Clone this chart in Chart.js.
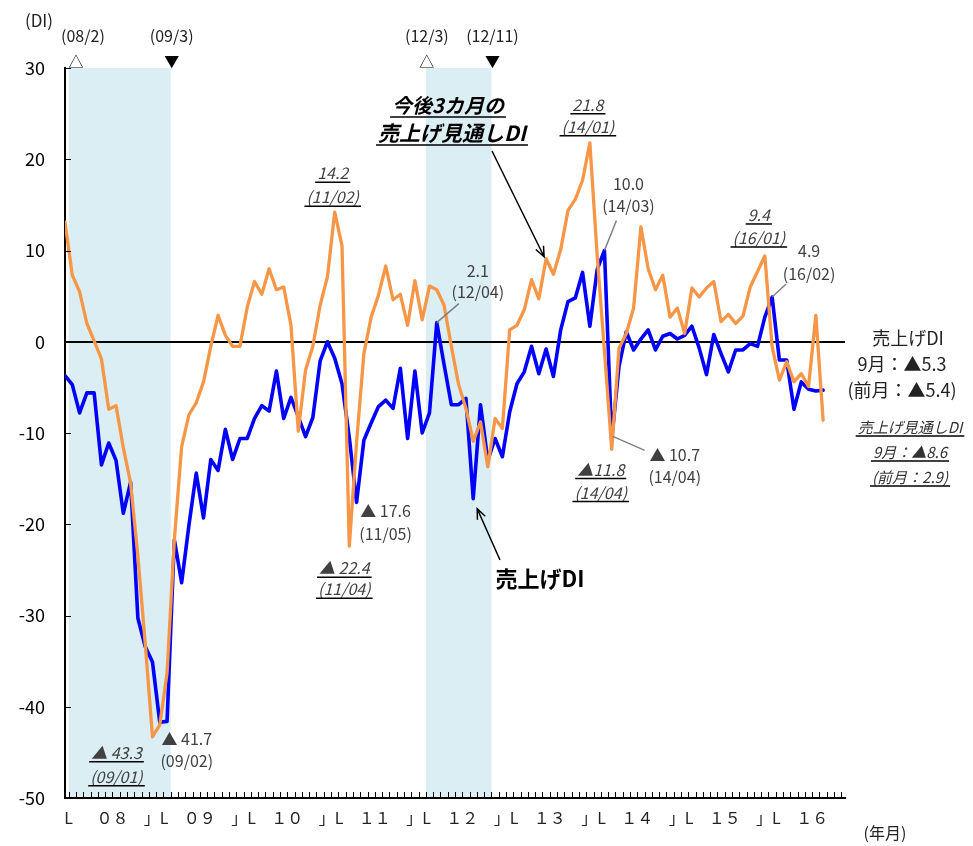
<!DOCTYPE html>
<html>
<head>
<meta charset="utf-8">
<script src="https://cdn.jsdelivr.net/npm/chart.js@4.4.1/dist/chart.umd.min.js"></script>
<style>
  html, body { margin: 0; padding: 0; background: #fff; }
</style>
</head>
<body>
<canvas id="chart" width="973" height="846"></canvas>
<script>
// monthly categories 2008/01 .. 2016/09
const years = ['08', '09', '10', '11', '12', '13', '14', '15', '16'];
const months = [];
years.forEach(y => {
    for (let m = 1; m <= 12; m++) {
        if (y === '16' && m > 9) break;
        months.push(y + '/' + String(m).padStart(2, '0'));
    }
});

// 売上げDI
const salesDI = [
    -3.7, -4.7, -7.8, -5.6, -5.6, -13.5, -11.1, -13.0, -18.8, -15.4, -30.3, -33.4,
    -35.1, -41.7, -41.6, -21.7, -26.4, -20.1, -14.4, -19.3, -12.9, -14.1, -9.6, -12.9,
    -10.6, -10.6, -8.4, -7.0, -7.6, -3.2, -8.4, -6.1, -8.2, -10.4, -8.3, -2.1,
    0.0, -1.8, -4.6, -10.5, -17.6, -10.8, -8.9, -7.1, -6.4, -7.3, -2.9, -10.6,
    -3.2, -10.0, -7.8, 2.1, -2.5, -6.9, -6.9, -6.2, -17.2, -6.9, -13.0, -10.6,
    -12.6, -7.7, -4.6, -3.3, -0.5, -3.5, -0.8, -3.8, 1.3, 4.4, 4.8, 7.6,
    1.7, 7.9, 10.0, -10.7, -2.7, 1.1, -0.9, 0.3, 1.3, -0.9, 0.6, 0.9,
    0.3, 0.7, 1.7, -0.7, -3.6, 0.8, -1.3, -3.3, -0.9, -0.9, -0.2, -0.5,
    2.7, 4.9, -2.0, -2.0, -7.4, -4.4, -5.2, -5.4, -5.3
];

// 今後3カ月の売上げ見通しDI
const outlookDI = [
    13.1, 7.3, 5.5, 2.0, 0.1, -1.9, -7.4, -7.0, -11.6, -15.5, -23.5, -33.0,
    -43.3, -42.0, -36.3, -21.7, -11.5, -8.0, -6.7, -4.4, -0.5, 2.9, 0.7, -0.5,
    -0.5, 3.8, 6.6, 5.2, 8.0, 5.7, 6.0, 1.8, -9.8, -3.1, -0.5, 4.0,
    7.1, 14.2, 10.5, -22.4, -11.0, -1.3, 2.7, 5.1, 8.3, 4.6, 5.2, 1.8,
    6.7, 2.4, 6.1, 5.7, 4.0, -0.5, -4.7, -7.3, -10.9, -8.8, -13.7, -8.4,
    -9.5, 1.3, 1.8, 3.5, 6.8, 4.7, 9.1, 7.4, 10.1, 14.4, 15.6, 17.7,
    21.8, 9.5, -1.0, -11.8, -0.7, 0.9, 3.7, 12.6, 8.0, 5.7, 7.3, 2.7,
    3.7, 0.9, 5.9, 4.9, 5.9, 6.6, 2.2, 3.0, 2.0, 2.8, 6.0, 7.7,
    9.4, -0.5, -4.2, -2.2, -4.4, -3.5, -4.9, 2.9, -8.6
];

const yMin = -50, yMax = 30, yStep = 10;
const yearTickLabels = ['０８', '０９', '１０', '１１', '１２', '１３', '１４', '１５', '１６'];

// 景気の山(△)・谷(▼)
const shadeFrom = ['08/02', '12/03'];
const shadeTo = ['09/03', '12/11'];
const turnLabels = ['(08/2)', '(09/3)', '(12/3)', '(12/11)'];
const turnMarks = ['△', '▼', '△', '▼'];

// annotations: anchored on a data point, offsets in px
const notes = [
    { set: 'o', m: '11/02', dx: -2, dy: -39, gap: 24, it: true, lines: ['14.2', '(11/02)'] },
    { set: 'o', m: '14/01', dx: -2, dy: -38, gap: 22, it: true, lines: ['21.8', '(14/01)'] },
    { set: 'o', m: '16/01', dx: -6, dy: -41, gap: 23, it: true, lines: ['9.4', '(16/01)'] },
    { set: 'o', m: '11/04', dx: -5, dy: 22, gap: 21, it: true, lines: ['▲ 22.4', '(11/04)'] },
    { set: 'o', m: '09/01', dx: -36, dy: 16, gap: 24, it: true, lines: ['▲ 43.3', '(09/01)'] },
    { set: 'o', m: '14/04', dx: -11, dy: 20, gap: 23, it: true, lines: ['▲11.8', '(14/04)'] },
    { set: 's', m: '09/02', dx: 27, dy: 17, gap: 22, lines: ['▲ 41.7', '(09/02)'] },
    { set: 's', m: '11/05', dx: 29, dy: 9, gap: 23, lines: ['▲ 17.6', '(11/05)'] },
    { set: 's', m: '12/04', dx: 41, dy: -52, gap: 21, lines: ['2.1', '(12/04)'], lead: [0, 0, 22, -19] },
    { set: 's', m: '14/03', dx: 24, dy: -67, gap: 22, lines: ['10.0', '(14/03)'], lead: [0, 0, 12, -30] },
    { set: 's', m: '14/04', dx: 63, dy: 16, gap: 22, lines: ['▲ 10.7', '(14/04)'], lead: [1, -3, 33, 11] },
    { set: 's', m: '16/02', dx: 37, dy: -46, gap: 23, lines: ['4.9', '(16/02)'], lead: [0, 0, 14, -13] }
];

const FONT = "'Noto Sans CJK JP', 'Noto Sans', sans-serif";
const idx = m => months.indexOf(m);

function underline(ctx, text, x, y, off) {
    const w = ctx.measureText(text).width;
    ctx.beginPath();
    ctx.moveTo(x - w / 2 - 2, y + off);
    ctx.lineTo(x + w / 2 + 2, y + off);
    ctx.stroke();
}

function arrow(ctx, x1, y1, x2, y2) {
    ctx.beginPath();
    ctx.moveTo(x1, y1);
    ctx.lineTo(x2, y2);
    const a = Math.atan2(y2 - y1, x2 - x1);
    const h = 11;
    ctx.moveTo(x2 - h * Math.cos(a - 0.4), y2 - h * Math.sin(a - 0.4));
    ctx.lineTo(x2, y2);
    ctx.lineTo(x2 - h * Math.cos(a + 0.4), y2 - h * Math.sin(a + 0.4));
    ctx.stroke();
}

const decorPlugin = {
    id: 'decor',
    beforeDraw(chart) {
        const { ctx, chartArea, scales: { x } } = chart;
        ctx.save();
        ctx.fillStyle = '#DAEEF3';
        shadeFrom.forEach((f, k) => {
            const x1 = x.getPixelForValue(idx(f) - 0.5);
            const x2 = x.getPixelForValue(idx(shadeTo[k]) + 0.5);
            ctx.fillRect(x1, chartArea.top, x2 - x1, chartArea.bottom - chartArea.top);
        });
        ctx.restore();
    },
    afterDraw(chart) {
        const { ctx, chartArea, scales: { x, y } } = chart;
        ctx.save();

        // inward tick marks
        ctx.strokeStyle = '#000';
        ctx.lineWidth = 1;
        ctx.beginPath();
        for (let i = 0; i <= 106; i++) {
            const px = Math.round(x.getPixelForValue(i + 0.5)) + 0.5;
            ctx.moveTo(px, chartArea.bottom);
            ctx.lineTo(px, chartArea.bottom - 6);
        }
        for (let v = yMin; v <= yMax; v += yStep) {
            const py = Math.round(y.getPixelForValue(v)) + 0.5;
            ctx.moveTo(chartArea.left, py);
            ctx.lineTo(chartArea.left + 6, py);
        }
        ctx.stroke();

        ctx.textAlign = 'center';
        ctx.textBaseline = 'middle';

        // turning points
        const turnX = [
            idx(shadeFrom[0]) + 0.5, idx(shadeTo[0]) + 0.5,
            idx(shadeFrom[1]) - 0.5, idx(shadeTo[1]) + 0.5
        ];
        turnLabels.forEach((t, k) => {
            const px = x.getPixelForValue(turnX[k]) + (k === 0 ? 0 : 1);
            ctx.fillStyle = '#222';
            ctx.font = '16px ' + FONT;
            ctx.fillText(t, px + (k === 0 ? 7 : 0), 36);
            ctx.font = '15px ' + FONT;
            ctx.fillStyle = '#000';
            ctx.fillText(turnMarks[k], px, 61);
        });

        // unit labels
        ctx.fillStyle = '#222';
        ctx.font = '17px ' + FONT;
        ctx.fillText('(DI)', 39, 21);
        ctx.font = '16px ' + FONT;
        ctx.fillText('(年月)', 885, 833);

        // point annotations
        notes.forEach(n => {
            const i = idx(n.m);
            const v = n.set === 'o' ? outlookDI[i] : salesDI[i];
            const ax = x.getPixelForValue(i), ay = y.getPixelForValue(v);
            if (n.lead) {
                ctx.strokeStyle = '#808080';
                ctx.lineWidth = 1.5;
                ctx.beginPath();
                ctx.moveTo(ax + n.lead[0], ay + n.lead[1]);
                ctx.lineTo(ax + n.lead[2], ay + n.lead[3]);
                ctx.stroke();
            }
            ctx.font = (n.it ? 'italic ' : '') + '16px ' + FONT;
            ctx.fillStyle = '#404040';
            ctx.strokeStyle = '#000';
            ctx.lineWidth = 1.5;
            n.lines.forEach((t, k) => {
                const tx = ax + n.dx, ty = ay + n.dy + k * n.gap;
                ctx.fillText(t, tx, ty);
                if (n.it) underline(ctx, t, tx, ty, 9);
            });
        });

        // series callouts
        ctx.fillStyle = '#000';
        ctx.strokeStyle = '#000';
        ctx.lineWidth = 1.5;
        ctx.font = 'italic bold 20px ' + FONT;
        ctx.fillText('今後3カ月の', 448, 105);
        underline(ctx, '今後3カ月の', 448, 105, 12);
        ctx.font = 'italic bold 21px ' + FONT;
        ctx.fillText('売上げ見通しDI', 452, 133);
        underline(ctx, '売上げ見通しDI', 452, 133, 12);
        const o = idx('13/07'), s = idx('12/09');
        arrow(ctx, 492, 151, x.getPixelForValue(o) - 2, y.getPixelForValue(outlookDI[o]) - 2);
        ctx.font = 'bold 22px ' + FONT;
        ctx.fillText('売上げDI', 540, 579);
        arrow(ctx, 500, 560, x.getPixelForValue(s) + 4, y.getPixelForValue(salesDI[s]) + 10);

        // latest values at right
        const last = months.length - 1;
        const fmt = v => (v < 0 ? '▲' : '') + Math.abs(v).toFixed(1);
        ctx.fillStyle = '#222';
        ctx.font = '18px ' + FONT;
        ctx.fillText('売上げDI', 908, 338);
        ctx.fillText('9月：' + fmt(salesDI[last]), 902, 364);
        ctx.fillText('(前月：' + fmt(salesDI[last - 1]) + ')', 902, 390);
        ctx.font = 'italic 15px ' + FONT;
        ctx.fillStyle = '#333';
        const r = ['売上げ見通しDI', '9月：' + fmt(outlookDI[last]), '(前月：' + fmt(outlookDI[last - 1]) + ')'];
        r.forEach((t, k) => {
            const ty = 427 + k * 25;
            ctx.fillText(t, 910, ty);
            underline(ctx, t, 910, ty, 9);
        });

        ctx.restore();
    }
};

const xTickValues = [];
years.forEach((y, k) => {
    xTickValues.push(k * 12 + 0.5);
    xTickValues.push(k * 12 + 6.5);
});

new Chart(document.getElementById('chart'), {
    type: 'line',
    data: {
        datasets: [
            {
                label: '今後3カ月の売上げ見通しDI',
                data: outlookDI.map((v, i) => ({ x: i, y: v })),
                borderColor: '#F79646',
                borderWidth: 3.3,
                pointRadius: 0,
                tension: 0,
                borderJoinStyle: 'round',
                borderCapStyle: 'round'
            },
            {
                label: '売上げDI',
                data: salesDI.map((v, i) => ({ x: i, y: v })),
                borderColor: '#0000FF',
                borderWidth: 3.6,
                pointRadius: 0,
                tension: 0,
                borderJoinStyle: 'round',
                borderCapStyle: 'round'
            }
        ]
    },
    options: {
        responsive: false,
        devicePixelRatio: 1,
        animation: false,
        layout: { padding: { top: 68, right: 128, bottom: 0, left: 0 } },
        plugins: {
            legend: { display: false },
            tooltip: { enabled: false }
        },
        scales: {
            x: {
                type: 'linear',
                min: 0,
                max: 107,
                afterFit: s => { s.height = 48; },
                afterBuildTicks: s => { s.ticks = xTickValues.map(v => ({ value: v })); },
                grid: { drawOnChartArea: false, drawTicks: false },
                border: { display: true, color: '#000', width: 2 },
                ticks: {
                    autoSkip: false,
                    maxRotation: 0,
                    padding: 10,
                    color: '#222',
                    font: { family: FONT, size: 16 },
                    callback: v => {
                        const k = Math.floor(v / 12);
                        if (v % 12 === 6.5) return yearTickLabels[k];
                        return k === 0 ? 'L' : '」L';
                    }
                }
            },
            y: {
                min: yMin,
                max: yMax,
                afterFit: s => { s.width = 65; },
                grid: {
                    drawTicks: false,
                    color: c => (c.tick && c.tick.value === 0 ? '#000' : 'rgba(0,0,0,0)'),
                    lineWidth: c => (c.tick && c.tick.value === 0 ? 2 : 0)
                },
                border: { display: true, color: '#000', width: 2 },
                ticks: {
                    stepSize: yStep,
                    padding: 20,
                    color: '#000',
                    font: { family: FONT, size: 18 }
                }
            }
        }
    },
    plugins: [decorPlugin]
});
</script>
</body>
</html>
